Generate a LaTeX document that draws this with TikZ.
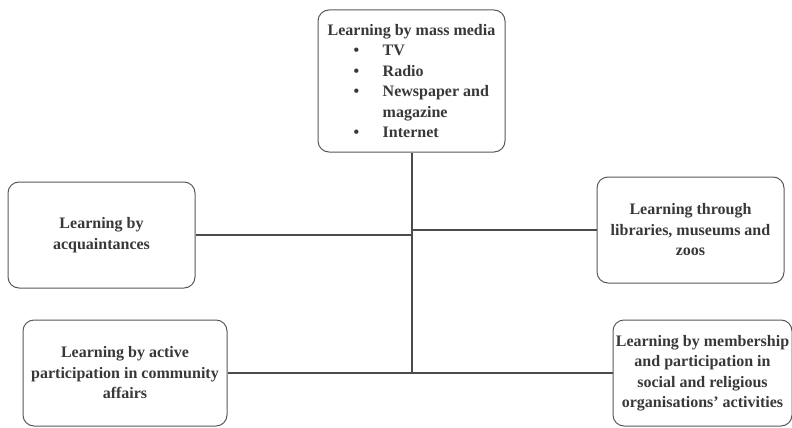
\documentclass[tikz,border=0pt]{standalone}
\usepackage{fontspec}
\setmainfont{Liberation Serif}
\newcommand{\itm}{\makebox[55pt][l]{\hspace{26pt}\textbullet}}
\begin{document}
\begin{tikzpicture}[x=1pt, y=-1pt]
		\tikzset{bx/.style={rectangle, rounded corners=11pt, draw=black!65, line width=1pt, text=black!78, align=center, font=\bfseries\fontsize{16}{20.5}\selectfont, inner sep=2pt}};
		\tikzset{ln/.style={draw=black!70, line width=2pt}};
		\useasboundingbox (0,0) rectangle (792,428);

		\node[bx, minimum width=187pt, minimum height=142pt, align=left] (mass) at (411.5, 81) {Learning by mass media\\ \itm TV\\ \itm Radio\\ \itm Newspaper and\\ \makebox[55pt]{}magazine\\ \itm Internet};
		\node[bx, minimum width=187pt, minimum height=106pt] (acq) at (101.5, 235) {Learning by\\ acquaintances};
		\node[bx, minimum width=187pt, minimum height=106pt] (lib) at (690.5, 230) {Learning through\\ libraries, museums and\\ zoos};
		\node[bx, minimum width=204pt, minimum height=106pt] (part) at (125, 373) {Learning by active\\ participation in community\\ affairs};
		\node[bx, minimum width=179pt, minimum height=106pt] (memb) at (702.5, 373) {Learning by membership\\ and participation in\\ social and religious\\ organisations' activities};

		\draw[ln] (mass.south) -- (mass.south |- part.east);
		\draw[ln] (acq.east) -- (acq.east -| mass.south);
		\draw[ln] (lib.west) -- (lib.west -| mass.south);
		\draw[ln] (part) -- (memb);

	\end{tikzpicture}
\end{document}
